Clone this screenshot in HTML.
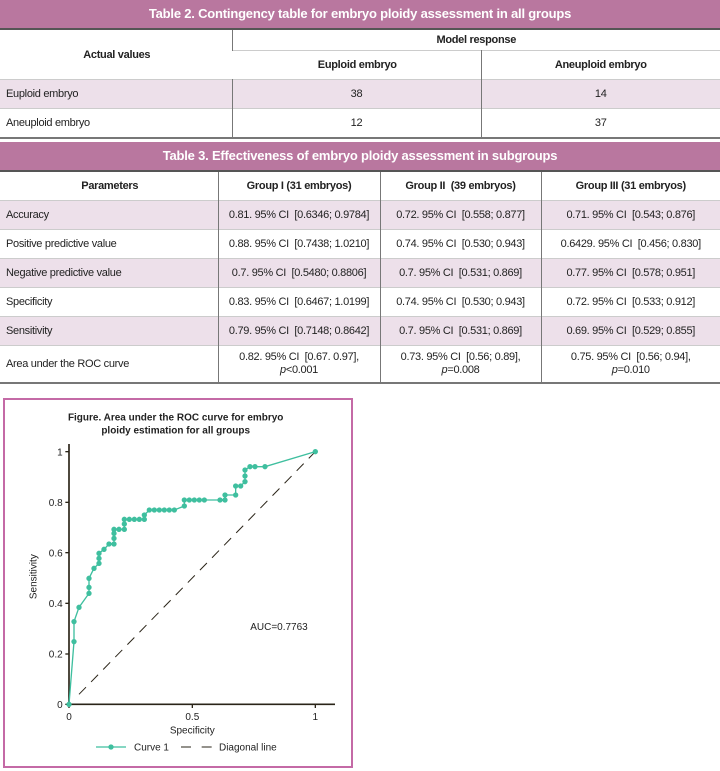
<!DOCTYPE html>
<html><head><meta charset="utf-8"><style>
body{margin:0;width:720px;height:771px;background:#fff;font-family:"Liberation Sans Narrow","Liberation Sans",sans-serif;color:#222;position:relative;overflow:hidden}
.bar{position:absolute;left:0;width:720px;height:28px;background:#b9779f;color:#fff;font-weight:bold;font-size:13px;letter-spacing:-0.2px;text-align:center;line-height:28px;border-bottom:2px solid #555}
table{position:absolute;left:0;width:720px;border-collapse:collapse;font-size:11px;letter-spacing:-0.3px;table-layout:fixed}
td{border-left:1px solid #777;padding:0 4px;height:28px;white-space:nowrap;overflow:hidden}
td:first-child{border-left:none;padding-left:6px}
.c{text-align:center}
.h td{font-weight:bold;text-align:center}
.p td{background:#ede0ea}
tr{border-bottom:1px solid #ccc}
.last{border-bottom:2px solid #777}
.fig{position:absolute;left:3px;top:398px;width:346px;height:366px;border:2px solid #c46aa6}
</style></head><body>
<div class="bar" style="top:0">Table 2. Contingency table for embryo ploidy assessment in all groups</div>
<table style="top:30px">
<colgroup><col style="width:232px"><col style="width:249px"><col></colgroup>
<tr class="h"><td rowspan="2" style="height:20px">Actual values</td><td colspan="2" style="height:20px">Model response</td></tr>
<tr class="h"><td style="height:21px">Euploid embryo</td><td>Aneuploid embryo</td></tr>
<tr class="p"><td style="height:27px">Euploid embryo</td><td class="c">38</td><td class="c">14</td></tr>
<tr class="last"><td style="height:24px">Aneuploid embryo</td><td class="c">12</td><td class="c">37</td></tr>
</table>
<div class="bar" style="top:142px">Table 3. Effectiveness of embryo ploidy assessment in subgroups</div>
<table style="top:172px">
<colgroup><col style="width:218px"><col style="width:162px"><col style="width:161px"><col></colgroup>
<tr class="h"><td>Parameters</td><td>Group I (31 embryos)</td><td>Group II&nbsp; (39 embryos)</td><td>Group III (31 embryos)</td></tr>
<tr class="p"><td>Accuracy</td><td class="c">0.81. 95% CI&nbsp; [0.6346; 0.9784]</td><td class="c">0.72. 95% CI&nbsp; [0.558; 0.877]</td><td class="c">0.71. 95% CI&nbsp; [0.543; 0.876]</td></tr>
<tr><td>Positive predictive value</td><td class="c">0.88. 95% CI&nbsp; [0.7438; 1.0210]</td><td class="c">0.74. 95% CI&nbsp; [0.530; 0.943]</td><td class="c">0.6429. 95% CI&nbsp; [0.456; 0.830]</td></tr>
<tr class="p"><td>Negative predictive value</td><td class="c">0.7. 95% CI&nbsp; [0.5480; 0.8806]</td><td class="c">0.7. 95% CI&nbsp; [0.531; 0.869]</td><td class="c">0.77. 95% CI&nbsp; [0.578; 0.951]</td></tr>
<tr><td>Specificity</td><td class="c">0.83. 95% CI&nbsp; [0.6467; 1.0199]</td><td class="c">0.74. 95% CI&nbsp; [0.530; 0.943]</td><td class="c">0.72. 95% CI&nbsp; [0.533; 0.912]</td></tr>
<tr class="p"><td>Sensitivity</td><td class="c">0.79. 95% CI&nbsp; [0.7148; 0.8642]</td><td class="c">0.7. 95% CI&nbsp; [0.531; 0.869]</td><td class="c">0.69. 95% CI&nbsp; [0.529; 0.855]</td></tr>
<tr class="last"><td style="height:36px">Area under the ROC curve</td><td class="c" style="line-height:13px">0.82. 95% CI&nbsp; [0.67. 0.97],<br><i>p</i>&lt;0.001</td><td class="c" style="line-height:13px">0.73. 95% CI&nbsp; [0.56; 0.89],<br><i>p</i>=0.008</td><td class="c" style="line-height:13px">0.75. 95% CI&nbsp; [0.56; 0.94],<br><i>p</i>=0.010</td></tr>
</table>
<div class="fig"></div>
<svg style="position:absolute;left:0;top:0" width="720" height="771">
<g transform="translate(0,370) scale(0.33333)" font-family="Liberation Sans, sans-serif">
<text x="527" y="152" text-anchor="middle" font-size="30" font-weight="bold" fill="#222">Figure. Area under the ROC curve for embryo</text>
<text x="527" y="190" text-anchor="middle" font-size="30" font-weight="bold" fill="#222">ploidy estimation for all groups</text>
<line x1="207" y1="222" x2="207" y2="1005" stroke="#2a2418" stroke-width="5"/>
<line x1="205" y1="1003" x2="1005" y2="1003" stroke="#2a2418" stroke-width="5"/>
<g stroke="#2a2418" stroke-width="4">
<line x1="196" y1="245" x2="207" y2="245"/><line x1="196" y1="397" x2="207" y2="397"/><line x1="196" y1="548" x2="207" y2="548"/><line x1="196" y1="700" x2="207" y2="700"/><line x1="196" y1="852" x2="207" y2="852"/><line x1="196" y1="1003" x2="207" y2="1003"/>
<line x1="207" y1="1003" x2="207" y2="1014"/><line x1="577" y1="1003" x2="577" y2="1014"/><line x1="946" y1="1003" x2="946" y2="1014"/>
</g>
<g font-size="30" fill="#222" text-anchor="end">
<text x="188" y="256">1</text><text x="188" y="408">0.8</text><text x="188" y="559">0.6</text><text x="188" y="711">0.4</text><text x="188" y="863">0.2</text><text x="188" y="1014">0</text>
</g>
<g font-size="30" fill="#222" text-anchor="middle">
<text x="207" y="1050">0</text><text x="577" y="1050">0.5</text><text x="946" y="1050">1</text>
<text x="577" y="1090">Specificity</text>
<text transform="translate(110,620) rotate(-90)">Sensitivity</text>
<text x="837" y="780">AUC=0.7763</text>
</g>
<line x1="237" y1="973" x2="946" y2="245" stroke="#2a2418" stroke-width="3" stroke-dasharray="30,22"/>
<polyline fill="none" stroke="#3fbf9f" stroke-width="4" points="207,1003 222,815 222,755 237,712 267,670 267,652 267,625 282,595 297,580 297,565 297,550 312,538 327,522 342,522 342,505 342,490 342,478 357,478 373,478 373,462 373,448 388,448 403,448 418,448 433,448 433,435 448,420 463,420 478,420 493,420 508,420 523,420 553,408 553,390 568,390 583,390 598,390 613,390 660,390 675,390 675,375 707,375 707,348 722,348 735,335 735,318 735,300 750,290 765,290 795,290 946,245"/>
<g fill="#3fbf9f">
<circle cx="207" cy="1003" r="8"/><circle cx="222" cy="815" r="8"/><circle cx="222" cy="755" r="8"/><circle cx="237" cy="712" r="8"/><circle cx="267" cy="670" r="8"/><circle cx="267" cy="652" r="8"/><circle cx="267" cy="625" r="8"/><circle cx="282" cy="595" r="8"/><circle cx="297" cy="580" r="8"/><circle cx="297" cy="565" r="8"/><circle cx="297" cy="550" r="8"/><circle cx="312" cy="538" r="8"/><circle cx="327" cy="522" r="8"/><circle cx="342" cy="522" r="8"/><circle cx="342" cy="505" r="8"/><circle cx="342" cy="490" r="8"/><circle cx="342" cy="478" r="8"/><circle cx="357" cy="478" r="8"/><circle cx="373" cy="478" r="8"/><circle cx="373" cy="462" r="8"/><circle cx="373" cy="448" r="8"/><circle cx="388" cy="448" r="8"/><circle cx="403" cy="448" r="8"/><circle cx="418" cy="448" r="8"/><circle cx="433" cy="448" r="8"/><circle cx="433" cy="435" r="8"/><circle cx="448" cy="420" r="8"/><circle cx="463" cy="420" r="8"/><circle cx="478" cy="420" r="8"/><circle cx="493" cy="420" r="8"/><circle cx="508" cy="420" r="8"/><circle cx="523" cy="420" r="8"/><circle cx="553" cy="408" r="8"/><circle cx="553" cy="390" r="8"/><circle cx="568" cy="390" r="8"/><circle cx="583" cy="390" r="8"/><circle cx="598" cy="390" r="8"/><circle cx="613" cy="390" r="8"/><circle cx="660" cy="390" r="8"/><circle cx="675" cy="390" r="8"/><circle cx="675" cy="375" r="8"/><circle cx="707" cy="375" r="8"/><circle cx="707" cy="348" r="8"/><circle cx="722" cy="348" r="8"/><circle cx="735" cy="335" r="8"/><circle cx="735" cy="318" r="8"/><circle cx="735" cy="300" r="8"/><circle cx="750" cy="290" r="8"/><circle cx="765" cy="290" r="8"/><circle cx="795" cy="290" r="8"/><circle cx="946" cy="245" r="8"/>
</g>
<line x1="288" y1="1131" x2="378" y2="1131" stroke="#3fbf9f" stroke-width="4"/>
<circle cx="333" cy="1131" r="8" fill="#3fbf9f"/>
<text x="402" y="1141" font-size="30" fill="#222">Curve 1</text>
<line x1="543" y1="1131" x2="573" y2="1131" stroke="#2a2418" stroke-width="3"/>
<line x1="605" y1="1131" x2="635" y2="1131" stroke="#2a2418" stroke-width="3"/>
<text x="657" y="1141" font-size="30" fill="#222">Diagonal line</text>
</g>
</svg>
</body></html>
